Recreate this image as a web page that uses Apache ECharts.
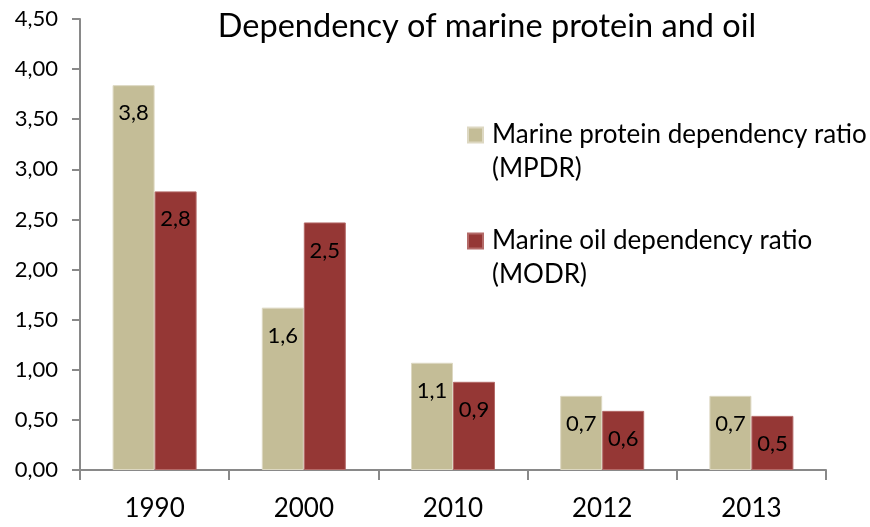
<!DOCTYPE html>
<html>
<head>
<meta charset="utf-8">
<script src="https://cdn.jsdelivr.net/npm/echarts@6/dist/echarts.min.js"></script>
<style>
  html, body { margin: 0; padding: 0; background: #fff; }
  #main { width: 870px; height: 527px; }
</style>
</head>
<body>
<div id="main"></div>
<script>
// values
var years = ['1990', '2000', '2010', '2012', '2013'];
var mpdr = [3.84, 1.62, 1.07, 0.74, 0.74];
var modr = [2.78, 2.47, 0.88, 0.59, 0.54];
var seriesNames = ['Marine protein dependency ratio\n(MPDR)', 'Marine oil dependency ratio\n(MODR)'];

var FONT = 'Lato';
var chart = echarts.init(document.getElementById('main'));

function comma(v, d) {
	return v.toFixed(d).replace('.', ',');
}

var option = {
	backgroundColor: '#fff',
	animation: false,
	textStyle: { fontFamily: FONT, color: '#000' },
	title: {
		text: 'Dependency of marine protein and oil',
		left: 482,
		top: 5,
		textAlign: 'center',
		textStyle: { fontFamily: FONT, fontSize: 32.5, fontWeight: 'normal', color: '#000' }
	},
	legend: {
		orient: 'vertical',
		left: 467,
		top: 84,
		padding: 0,
		itemGap: 4,
		itemWidth: 15,
		itemHeight: 15,
		icon: 'rect',
		data: seriesNames,
		formatter: function (name) { return '\n' + name; },
		textStyle: { fontFamily: FONT, fontSize: 26, lineHeight: 34, color: '#000', padding: [0, 0, 0, 4] }
	},
	grid: { left: 80, right: 44, top: 19, bottom: 57 },
	xAxis: {
		type: 'category',
		data: years,
		axisLine: { lineStyle: { color: '#898989', width: 2 } },
		axisTick: { show: true, length: 10, lineStyle: { color: '#898989', width: 2 } },
		axisLabel: { fontFamily: FONT, fontSize: 26, color: '#000', margin: 26 }
	},
	yAxis: {
		type: 'value',
		min: 0,
		max: 4.5,
		interval: 0.5,
		splitLine: { show: false },
		axisLine: { show: true, lineStyle: { color: '#898989', width: 2 } },
		axisTick: { show: true, length: 8, lineStyle: { color: '#898989', width: 2 } },
		axisLabel: {
			fontFamily: FONT, fontSize: 22, color: '#000', margin: 22,
			formatter: function (v) { return comma(v, 2); }
		}
	},
	series: [
		{
			name: seriesNames[0],
			type: 'bar',
			data: mpdr,
			barWidth: 42,
			barGap: '0%',
			itemStyle: { color: '#C4BD97', borderColor: '#ddd8c2', borderWidth: 1 },
			label: {
				show: true, position: 'insideTop', distance: 17,
				fontFamily: FONT, fontSize: 22, color: '#000',
				formatter: function (p) { return comma(p.value, 1); }
			}
		},
		{
			name: seriesNames[1],
			type: 'bar',
			data: modr,
			barWidth: 42,
			barGap: '0%',
			itemStyle: { color: '#953735', borderColor: '#b46a68', borderWidth: 1 },
			label: {
				show: true, position: 'insideTop', distance: 17,
				fontFamily: FONT, fontSize: 22, color: '#000',
				formatter: function (p) { return comma(p.value, 1); }
			}
		}
	]
};
chart.setOption(option);
</script>
</body>
</html>
